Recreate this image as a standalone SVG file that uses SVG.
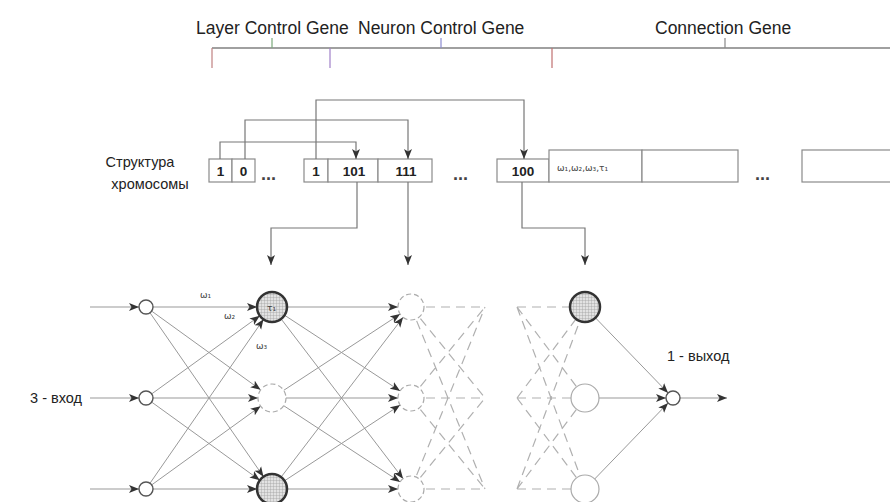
<svg xmlns="http://www.w3.org/2000/svg" width="890" height="502" viewBox="0 0 890 502">
<style>
text{font-family:"Liberation Sans",Arial,sans-serif;fill:#222}
.hdr{font-size:17.5px}
.lbl{font-size:14.5px}
.cell{fill:#fff;stroke:#8a8a8a;stroke-width:1.2}
.num{font-size:13.5px;font-weight:bold;text-anchor:middle}
.dots{font-size:18px;font-weight:bold;fill:#444}
.ln{fill:none;stroke:#999;stroke-width:1}
.cn{fill:none;stroke:#777;stroke-width:1.2}
.br{fill:none;stroke:#808080;stroke-width:1.3}
.dash{fill:none;stroke:#b0b0b0;stroke-width:1.2;stroke-dasharray:9 6}
.arr{marker-end:url(#ah)}
.in{fill:#fff;stroke:#555;stroke-width:1.4}
.act{fill:url(#hatch);stroke:#333;stroke-width:2.5}
.inact{fill:#fff;stroke:#aaa;stroke-width:1.2;stroke-dasharray:5 3}
.light{fill:#fff;stroke:#aaa;stroke-width:1.2}
.w{font-family:"DejaVu Sans",sans-serif;font-size:9px;fill:#444}
</style>
<defs>
<marker id="ah" markerWidth="11" markerHeight="9" refX="10" refY="4.5" orient="auto" markerUnits="userSpaceOnUse"><path d="M0,0.5 L10,4.5 L0,8.5 L2.5,4.5 z" fill="#333"/></marker>
<pattern id="hatch" width="3" height="3" patternUnits="userSpaceOnUse"><rect width="3" height="3" fill="#e2e2e2"/><path d="M0,0H3M0,0V3" stroke="#a0a0a0" stroke-width="0.8"/></pattern>
</defs>

<g id="gene-bracket">
<text class="hdr" x="196" y="34">Layer Control Gene</text>
<text class="hdr" x="358" y="34">Neuron Control Gene</text>
<text class="hdr" x="655" y="34">Connection Gene</text>
<path class="br" d="M212,48 H890"/>
<path d="M272,38 V48" stroke="#7aa87a" stroke-width="1.2"/>
<path d="M441,38 V48" stroke="#8a8ad0" stroke-width="1.2"/>
<path d="M725,38 V48" stroke="#888" stroke-width="1.2"/>
<path d="M212,48 V68" stroke="#c08080" stroke-width="1.2"/>
<path d="M330,48 V68" stroke="#a080c8" stroke-width="1.2"/>
<path d="M552,48 V68" stroke="#c07070" stroke-width="1.2"/>
</g>

<g id="chromosome">
<text class="lbl" x="140" y="167" text-anchor="middle">Структура</text>
<text class="lbl" x="150" y="189" text-anchor="middle">хромосомы</text>
<rect class="cell" x="209" y="159" width="23" height="23"/>
<text class="num" x="220.5" y="176">1</text>
<rect class="cell" x="232" y="159" width="23" height="23"/>
<text class="num" x="243.5" y="176">0</text>
<text class="dots" x="261" y="180">...</text>
<rect class="cell" x="304" y="159" width="24" height="23"/>
<text class="num" x="316" y="176">1</text>
<rect class="cell" x="328" y="159" width="50" height="23"/>
<text class="num" x="354" y="176">101</text>
<rect class="cell" x="378" y="159" width="54" height="23"/>
<text class="num" x="406" y="176">111</text>
<text class="dots" x="453" y="180">...</text>
<rect class="cell" x="497" y="159" width="52" height="23"/>
<text class="num" x="523" y="176">100</text>
<rect class="cell" x="549" y="150" width="93" height="32"/>
<text class="w" x="557" y="171">ω₁,ω₂,ω₃,τ₁</text>
<rect class="cell" x="642" y="150" width="96" height="32"/>
<text class="dots" x="755" y="180">...</text>
<rect class="cell" x="802" y="150" width="95" height="32"/>
</g>

<g id="connectors">
<path class="cn arr" d="M220,159 V142 H356 V159" stroke="#8a80b0"/>
<path class="cn arr" d="M245,159 V120 H408 V159"/>
<path class="cn arr" d="M316,159 V100 H524 V159" stroke="#9080c0"/>
<path class="cn arr" d="M357,182 V228 H271 V265" stroke="#7a907a"/>
<path class="cn arr" d="M408,182 V265" stroke="#8a7ad0"/>
<path class="cn arr" d="M522,182 V228 H585 V265" stroke="#8a7ad0"/>

<path class="ln arr" d="M90,307 H139"/>
<path class="ln arr" d="M90,398 H139"/>
<path class="ln arr" d="M90,489 H139"/>

<path class="ln arr" d="M146,307 L257,307"/>
<path class="ln arr" d="M146,398 L259.8,315.8"/>
<path class="ln arr" d="M146,489 L263.5,319.3"/>
<path class="ln arr" d="M146,307 L260.6,389.8"/>
<path class="ln arr" d="M146,398 L258,398"/>
<path class="ln arr" d="M146,489 L260.6,406.2"/>
<path class="ln arr" d="M146,307 L263.5,476.7"/>
<path class="ln arr" d="M146,398 L259.8,480.2"/>
<path class="ln arr" d="M146,489 L257,489"/>

<path class="ln arr" d="M272,307 L398,307"/>
<path class="ln arr" d="M272,398 L400.1,314.1"/>
<path class="ln arr" d="M272,489 L403.1,317.3"/>
<path class="ln arr" d="M272,307 L400.1,390.9"/>
<path class="ln arr" d="M272,398 L398,398"/>
<path class="ln arr" d="M272,489 L400.1,405.1"/>
<path class="ln arr" d="M272,307 L403.1,478.7"/>
<path class="ln arr" d="M272,398 L400.1,481.9"/>
<path class="ln arr" d="M272,489 L398,489"/>

<path class="dash" d="M411,307 L485,307 M411,307 L485,398 M411,307 L485,489 M411,398 L485,307 M411,398 L485,398 M411,398 L485,489 M411,489 L485,307 M411,489 L485,398 M411,489 L485,489"/>
<path class="dash" d="M517,307 L585,307 M517,307 L585,398 M517,307 L585,489 M517,398 L585,307 M517,398 L585,398 M517,398 L585,489 M517,489 L585,307 M517,489 L585,398 M517,489 L585,489"/>

<path class="ln arr" d="M585,307 L668.1,393"/>
<path class="ln arr" d="M585,398 L666,398"/>
<path class="ln arr" d="M585,489 L668.1,403"/>
<path class="ln arr" d="M680,398 H727" stroke="#666"/>
</g>

<g id="input-nodes">
<circle class="in" cx="146" cy="307" r="7"/>
<circle class="in" cx="146" cy="398" r="7"/>
<circle class="in" cx="146" cy="489" r="7"/>
<text class="lbl" x="82" y="403" text-anchor="end">3 - вход</text>
</g>

<g id="layer1">
<circle class="act" cx="272" cy="307" r="15"/>
<text class="w" x="267" y="311">τ₁</text>
<circle class="inact" cx="272" cy="398" r="14"/>
<circle class="act" cx="272" cy="489" r="15"/>
<text class="w" x="200" y="298">ω₁</text>
<text class="w" x="224" y="319">ω₂</text>
<text class="w" x="256" y="349">ω₃</text>
</g>

<g id="layer2">
<circle class="inact" cx="411" cy="307" r="13"/>
<circle class="inact" cx="411" cy="398" r="13"/>
<circle class="inact" cx="411" cy="489" r="13"/>
</g>

<g id="layer3">
<circle class="act" cx="585" cy="307" r="15"/>
<circle class="light" cx="585" cy="398" r="14"/>
<circle class="light" cx="585" cy="489" r="14"/>
</g>

<g id="output-node">
<circle class="in" cx="673" cy="398" r="7"/>
<text class="lbl" x="667" y="361">1 - выход</text>
</g>
</svg>
